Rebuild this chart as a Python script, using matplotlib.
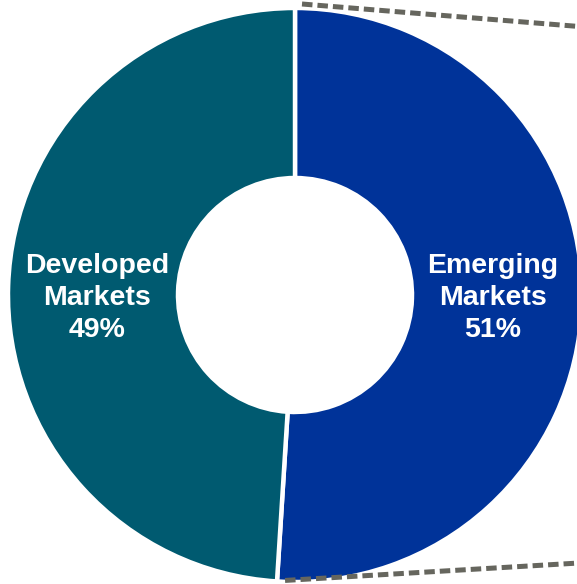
import numpy as np
import matplotlib
matplotlib.use("Agg")
import matplotlib.pyplot as plt

# regional split of the portfolio
labels = ["Emerging\nMarkets", "Developed\nMarkets"]
shares = [51, 49]
colors = ["#003399", "#005A70"]

W, H = 577, 584
fig = plt.figure(figsize=(W / 100, H / 100), dpi=100)
ax = fig.add_axes([0, 0, 1, 1])

cx, cy = 295, H - 295
r_out, r_in = 287, 117

wedges, _ = ax.pie(shares, colors=colors, startangle=90, counterclock=False,
                   center=(cx, cy), radius=r_out, frame=True,
                   wedgeprops=dict(width=r_out - r_in, edgecolor="white", linewidth=3.2))

# labels sit in the middle of each ring segment, on the horizontal midline
r_lab = (r_out + r_in) / 2 - 4
for w, lab, val in zip(wedges, labels, shares):
    mid = np.deg2rad((w.theta1 + w.theta2) / 2)
    x = cx + r_lab * np.cos(mid)
    ax.text(x, cy - 3, f"{lab}\n{val}%", ha="center", va="center", color="white",
            fontsize=20.5, fontweight="bold", family="Liberation Sans", linespacing=1.32)

# dashed leader lines from the emerging segment out to the right
em = wedges[0]
t_top, t_bot = np.deg2rad(em.theta2), np.deg2rad(em.theta1)
top = (cx + 7 + (r_out + 4) * np.cos(t_top), cy + (r_out + 4) * np.sin(t_top))
bot = (cx + 8 + (r_out - 1) * np.cos(t_bot), cy + (r_out - 1) * np.sin(t_bot))
dash = dict(color="#66665E", linewidth=3.6, linestyle=(0, (2.1, 1.0)), clip_on=False)
ax.plot([top[0], W + 2], [top[1], H - 26.5], **dash)
ax.plot([bot[0], W + 2], [bot[1], H - 563], **dash)

ax.set_xlim(0, W)
ax.set_ylim(0, H)
ax.set_aspect("auto")
ax.axis("off")

fig.savefig("out.png", dpi=100)
